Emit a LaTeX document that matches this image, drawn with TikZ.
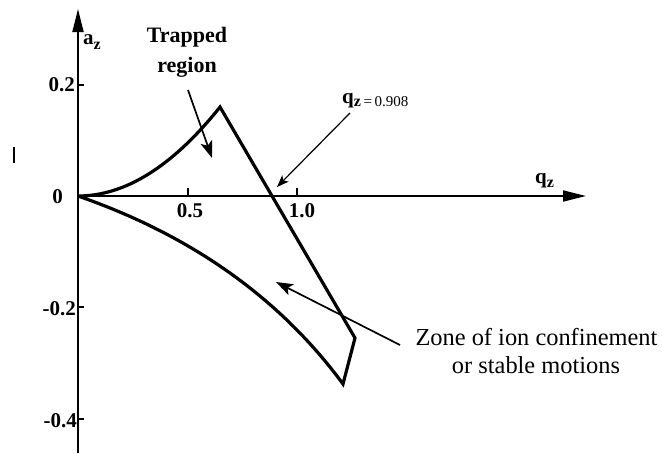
\documentclass[tikz,border=0pt]{standalone}
\usepackage{fontspec}
\setmainfont{Liberation Serif}
\usetikzlibrary{arrows.meta}
\begin{document}
\begin{tikzpicture}[x=1pt,y=-1pt,
  axis/.style={line width=1.8pt},
  axarrow/.style={axis,-{Triangle[length=23pt,width=11pt]}},
  boundary/.style={line width=3.2pt,line join=miter},
  tickmark/.style={line width=1.8pt},
  ticklbl/.style={font=\fontsize{21}{21}\selectfont\bfseries,inner sep=0pt},
  bigptr/.style={line width=1.7pt,-{Stealth[length=17pt,width=12pt,inset=4pt]}},
  smallptr/.style={line width=1.2pt,-{Stealth[length=12pt,width=9pt,inset=3pt]}},
  caption/.style={font=\fontsize{24.4}{28}\selectfont,inner sep=0pt,align=center},
  trapfont/.style={font=\fontsize{22}{33}\selectfont\bfseries,inner sep=0pt}]
\useasboundingbox (0,0) rectangle (662,453);
\fill[white] (0,0) rectangle (662,453);
% axes
\coordinate (O) at (78,196);
\coordinate (ytop) at (78,9);
\coordinate (ybot) at (78,453);
\coordinate (xend) at (586,196);
\draw[axarrow] (ybot) -- (ytop);
\draw[axarrow] (O) -- (xend);
% ticks
\coordinate (t02) at (78,85);
\coordinate (tm02) at (78,307);
\coordinate (tm04) at (78,419);
\coordinate (t05) at (188,196);
\coordinate (t10) at (297,196);
\draw[tickmark] (t02) -- ++(6,0);
\draw[tickmark] (tm02) -- ++(6,0);
\draw[tickmark] (tm04) -- ++(6,0);
\draw[tickmark] (t05) -- ++(0,-8);
\draw[tickmark] (t10) -- ++(0,-8);
% tick labels
\node[ticklbl,anchor=east] (l02) at (75,85) {0.2};
\node[ticklbl,anchor=east] (l0) at (63,197) {0};
\node[ticklbl,anchor=east] (lm02) at (76,309) {-0.2};
\node[ticklbl,anchor=east] (lm04) at (77,421) {-0.4};
\node[ticklbl] (l05) at (190,211) {0.5};
\node[ticklbl] (l10) at (302,211) {1.0};
% axis labels
\node[ticklbl,anchor=base west] (az) at (83,44) {a\raisebox{-5pt}{\fontsize{16}{16}\selectfont z}};
\node[ticklbl,anchor=base west] (qz) at (535,183) {q\raisebox{-4pt}{\fontsize{16}{16}\selectfont z}};
% stability boundary
\coordinate (peak) at (220,107);
\coordinate (c1) at (355,338);
\coordinate (c2) at (343,384);
\draw[boundary] (O) .. controls (125.3,196) and (172.7,166.3) .. (peak) -- (c1) -- (c2)
  .. controls (279.7,298) and (191.3,235.3) .. (O);
% labels and pointers
\node[trapfont,anchor=base] (trap1) at (187,42) {Trapped};
\node[trapfont,anchor=base] (trap2) at (187,72) {region};
\coordinate (trapA) at (188,90);
\coordinate (trapB) at (212,158);
\draw[bigptr] (trapA) -- (trapB);
\node[anchor=base west,inner sep=0pt] (qlab) at (342,103)
  {\fontsize{21}{21}\selectfont\bfseries q\raisebox{-3pt}{\fontsize{16}{16}\selectfont z\,\mdseries\fontsize{15}{15}\selectfont=\,0.908}};
\coordinate (qA) at (350,113);
\coordinate (qB) at (277,187);
\draw[smallptr] (qA) -- (qB);
\node[caption,anchor=base] (zone1) at (536.5,345) {Zone of ion confinement};
\node[caption,anchor=base] (zone2) at (536,373) {or stable motions};
\coordinate (zA) at (400,345);
\coordinate (zB) at (276,282);
\draw[bigptr] (zA) -- (zB);
% stray mark
\coordinate (sm1) at (14,147);
\coordinate (sm2) at (14,163);
\draw[line width=1.5pt] (sm1) -- (sm2);
\end{tikzpicture}
\end{document}
